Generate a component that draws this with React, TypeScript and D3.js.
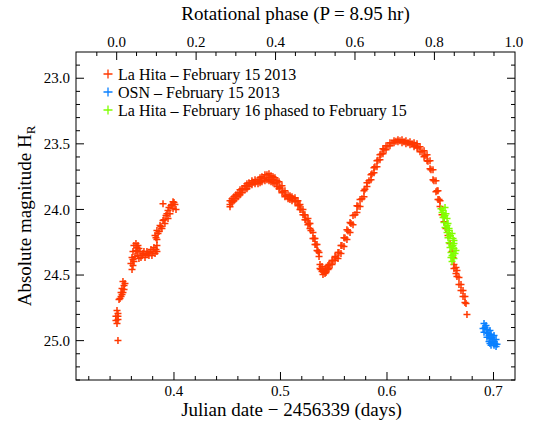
import React from "react";
import * as d3 from "d3";

// light curve points: [julian date - 2456339, absolute magnitude]
const laHitaFeb15: [number, number][] = [
  [0.3474, 24.998],
  [0.3465, 24.77], [0.3474, 24.793], [0.3455, 24.815], [0.3474, 24.838], [0.3465, 24.869],
  [0.3474, 24.815], [0.3455, 24.846],
  [0.3484, 24.686], [0.3503, 24.663], [0.3521, 24.633], [0.3512, 24.602], [0.3531, 24.58],
  [0.3521, 24.549], [0.3503, 24.633], [0.3512, 24.648], [0.3531, 24.61], [0.3493, 24.678],
  [0.354, 24.564],
  [0.3606, 24.458], [0.3596, 24.412], [0.3606, 24.367], [0.3615, 24.321], [0.3624, 24.275],
  [0.3643, 24.26], [0.3662, 24.275], [0.3643, 24.313], [0.3634, 24.359], [0.3662, 24.351],
  [0.3681, 24.321], [0.369, 24.367], [0.3709, 24.336], [0.3728, 24.367], [0.3746, 24.321],
  [0.3765, 24.351], [0.3784, 24.306], [0.3793, 24.351], [0.3812, 24.291], [0.3822, 24.336],
  [0.384, 24.275], [0.384, 24.321], [0.3624, 24.397], [0.3653, 24.291], [0.3671, 24.298],
  [0.37, 24.351], [0.3718, 24.321], [0.3737, 24.344], [0.3756, 24.336], [0.3775, 24.329],
  [0.3803, 24.321], [0.3831, 24.306], [0.3615, 24.382], [0.3615, 24.427], [0.3671, 24.374],
  [0.3653, 24.321],
  [0.3822, 24.199], [0.384, 24.161], [0.384, 24.23], [0.3859, 24.169], [0.3869, 24.123],
  [0.3887, 24.146], [0.3897, 24.085], [0.3915, 24.108], [0.3925, 24.047], [0.3944, 24.07],
  [0.3944, 24.009], [0.3962, 24.032], [0.3972, 23.971], [0.3991, 23.994], [0.3991, 23.941],
  [0.4009, 23.963], [0.4019, 24.001], [0.3897, 23.956], [0.385, 24.184], [0.3878, 24.131],
  [0.3906, 24.078], [0.3934, 24.032], [0.3953, 23.986], [0.3981, 23.963], [0.4, 23.948],
  [0.3831, 24.215],
  [0.4526, 23.933], [0.4526, 23.963], [0.4526, 23.98], [0.4545, 23.918], [0.4545, 23.948],
  [0.4563, 23.903], [0.4563, 23.933], [0.4582, 23.888], [0.4582, 23.918], [0.4601, 23.872],
  [0.4601, 23.903], [0.462, 23.849], [0.462, 23.888], [0.4638, 23.842], [0.4638, 23.872],
  [0.4667, 23.819], [0.4667, 23.849], [0.4685, 23.804], [0.4685, 23.842], [0.4704, 23.796],
  [0.4704, 23.826], [0.4732, 23.781], [0.4732, 23.811], [0.4761, 23.773], [0.4761, 23.804],
  [0.4789, 23.773], [0.4789, 23.804], [0.4808, 23.758], [0.4808, 23.796], [0.4826, 23.75],
  [0.4826, 23.788], [0.4854, 23.735], [0.4854, 23.781], [0.4873, 23.735], [0.4873, 23.773],
  [0.4892, 23.728], [0.4892, 23.781], [0.4911, 23.743], [0.4911, 23.788], [0.493, 23.75],
  [0.493, 23.796], [0.4948, 23.758], [0.4948, 23.804], [0.4967, 23.781], [0.4967, 23.826],
  [0.4986, 23.788], [0.4986, 23.842], [0.5014, 23.819], [0.5014, 23.872], [0.5042, 23.857],
  [0.5042, 23.903], [0.5071, 23.888], [0.5071, 23.918], [0.5089, 23.895], [0.5089, 23.925],
  [0.5108, 23.903], [0.5108, 23.933], [0.5136, 23.91], [0.5136, 23.941], [0.5164, 23.933],
  [0.5164, 23.971], [0.5183, 23.963], [0.5183, 24.001], [0.5211, 24.001], [0.5211, 24.04],
  [0.523, 24.04], [0.523, 24.078], [0.5258, 24.07], [0.5258, 24.116], [0.5277, 24.108],
  [0.5277, 24.146], [0.5305, 24.176], [0.5305, 24.222], [0.5324, 24.222], [0.5324, 24.268],
  [0.5343, 24.268], [0.5343, 24.313], [0.5362, 24.329], [0.5362, 24.359],
  [0.5371, 24.42], [0.5371, 24.45], [0.539, 24.435], [0.539, 24.473], [0.5399, 24.465],
  [0.5399, 24.496], [0.5418, 24.458], [0.5418, 24.488], [0.5427, 24.45], [0.5427, 24.481],
  [0.5446, 24.427], [0.5446, 24.458], [0.5455, 24.42], [0.5455, 24.45], [0.5484, 24.389],
  [0.5484, 24.42], [0.5512, 24.359], [0.5512, 24.389], [0.554, 24.329], [0.554, 24.374],
  [0.5568, 24.275], [0.5568, 24.336], [0.5596, 24.215], [0.5596, 24.283], [0.5624, 24.154],
  [0.5624, 24.23], [0.5653, 24.1], [0.5653, 24.176], [0.5681, 24.047], [0.5681, 24.116],
  [0.5718, 23.971], [0.5718, 24.024], [0.5747, 23.925], [0.5747, 23.978], [0.5784, 23.857],
  [0.5784, 23.903], [0.5812, 23.796], [0.5812, 23.826], [0.585, 23.735], [0.585, 23.773],
  [0.5878, 23.682], [0.5878, 23.72], [0.5906, 23.629], [0.5906, 23.674], [0.5934, 23.583],
  [0.5934, 23.621], [0.5962, 23.537], [0.5962, 23.575], [0.5991, 23.514], [0.5991, 23.545],
  [0.6028, 23.492], [0.6028, 23.514], [0.6066, 23.476], [0.6066, 23.492], [0.6103, 23.469],
  [0.6103, 23.484], [0.6141, 23.469], [0.6141, 23.492], [0.6178, 23.476], [0.6178, 23.499],
  [0.6216, 23.484], [0.6216, 23.507], [0.6254, 23.492], [0.6254, 23.522], [0.6282, 23.499],
  [0.6282, 23.53], [0.631, 23.522], [0.631, 23.56], [0.6348, 23.553], [0.6348, 23.598],
  [0.6376, 23.583], [0.6376, 23.629], [0.6404, 23.629], [0.6404, 23.689], [0.6432, 23.697],
  [0.6432, 23.773], [0.646, 23.781], [0.646, 23.865], [0.6479, 23.857], [0.6479, 23.925],
  [0.6498, 23.933], [0.6498, 23.978],
  // in-between points along the main band
  [0.4545, 23.941], [0.4582, 23.895], [0.462, 23.872], [0.4648, 23.846], [0.4685, 23.823],
  [0.4714, 23.804], [0.4742, 23.792], [0.477, 23.788], [0.4808, 23.781], [0.4845, 23.762],
  [0.4892, 23.758], [0.493, 23.773], [0.4967, 23.796], [0.4995, 23.83], [0.5023, 23.864],
  [0.5052, 23.891], [0.5089, 23.906], [0.5117, 23.918], [0.5146, 23.937], [0.5174, 23.967],
  [0.5193, 24.001], [0.5221, 24.04], [0.5239, 24.078], [0.5268, 24.108], [0.5286, 24.161],
  [0.5315, 24.222], [0.5333, 24.268], [0.5352, 24.317], [0.538, 24.458], [0.5409, 24.473],
  [0.5437, 24.45], [0.5465, 24.42], [0.5493, 24.389], [0.5521, 24.363], [0.5549, 24.329],
  [0.5577, 24.275], [0.5606, 24.218], [0.5634, 24.165], [0.5662, 24.108], [0.57, 24.04],
  [0.5728, 23.975], [0.5765, 23.918], [0.5793, 23.846], [0.5831, 23.781], [0.5859, 23.728],
  [0.5887, 23.674], [0.5915, 23.625], [0.5944, 23.579], [0.5972, 23.545], [0.6009, 23.514],
  [0.6047, 23.492], [0.6084, 23.48], [0.6122, 23.476], [0.616, 23.484], [0.6197, 23.492],
  [0.6235, 23.499], [0.6263, 23.511], [0.6291, 23.53], [0.6329, 23.56], [0.6357, 23.591],
  [0.6385, 23.632], [0.6413, 23.697], [0.6441, 23.781], [0.647, 23.857], [0.6489, 23.925],
  [0.6517, 24.04], [0.6536, 24.093], [0.6554, 24.146], [0.6573, 24.199], [0.6592, 24.26],
  [0.6611, 24.321], [0.662, 24.367],
  [0.6629, 24.42], [0.6629, 24.45], [0.6648, 24.443], [0.6648, 24.488], [0.6657, 24.465],
  [0.6657, 24.511], [0.6676, 24.519], [0.6676, 24.572], [0.6695, 24.572], [0.6695, 24.618],
  [0.6714, 24.618], [0.6714, 24.663], [0.6732, 24.663], [0.6732, 24.709], [0.6742, 24.717],
  [0.6751, 24.8],
];

const osnFeb15: [number, number][] = [
  [0.6911, 24.869], [0.693, 24.884], [0.6902, 24.907], [0.6939, 24.914], [0.6967, 24.922],
  [0.6911, 24.937], [0.6949, 24.945], [0.6977, 24.952], [0.7005, 24.96], [0.6939, 24.975],
  [0.6967, 24.983], [0.6996, 24.991], [0.7024, 24.991], [0.6958, 25.006], [0.6986, 25.013],
  [0.7014, 25.021], [0.6977, 25.036], [0.7005, 25.036], [0.7024, 25.044], [0.6921, 24.899],
  [0.6958, 24.96], [0.6986, 24.975], [0.7005, 25.006], [0.6939, 24.937], [0.7033, 25.028],
  [0.6967, 25.021],
];

const laHitaFeb16: [number, number][] = [
  [0.6507, 23.994], [0.6545, 23.986], [0.6517, 24.024], [0.6554, 24.032], [0.6526, 24.062],
  [0.6564, 24.07], [0.6536, 24.1], [0.6573, 24.108], [0.6545, 24.138], [0.6583, 24.146],
  [0.6564, 24.176], [0.6611, 24.184], [0.6573, 24.215], [0.662, 24.222], [0.6583, 24.253],
  [0.6629, 24.26], [0.6592, 24.291], [0.6629, 24.298], [0.6601, 24.329], [0.6639, 24.336],
  [0.6601, 24.367], [0.6629, 24.374], [0.6611, 24.397], [0.6536, 24.05], [0.6592, 24.2],
  [0.6611, 24.28], [0.662, 24.35], [0.6526, 24.009], [0.6564, 24.123], [0.6592, 24.199],
  [0.662, 24.275], [0.6611, 24.351], [0.6545, 24.047], [0.6583, 24.161], [0.6629, 24.237],
  [0.6648, 24.313],
];

const seriesNames = [
  "La Hita \u2013 February 15 2013",
  "OSN \u2013 February 15 2013",
  "La Hita \u2013 February 16 phased to February 15",
];
const seriesColors = ["#ff3800", "#0a80ff", "#80ff00"];

const jdTicks = [0.4, 0.5, 0.6, 0.7];
const phaseTicks = [0.0, 0.2, 0.4, 0.6, 0.8, 1.0];
const magTicks = [23.0, 23.5, 24.0, 24.5, 25.0];

const PERIOD_DAYS = 8.95 / 24;
const PHASE_ZERO_JD = 0.3462;

const W = 538;
const H = 432;
const left = 76;
const right = 515;
const top = 52;
const bottom = 380;
const serif = { fontFamily: '"Liberation Serif"' };

const plus = (s: number) => `M${-s},0H${s}M0,${-s}V${s}`;

export default function App() {
  const jdDomain = [0.308, 0.7202];
  const x = d3.scaleLinear().domain(jdDomain).range([left, right]);
  const phase = d3
    .scaleLinear()
    .domain(jdDomain.map((d) => (d - PHASE_ZERO_JD) / PERIOD_DAYS))
    .range([left, right]);
  const y = d3.scaleLinear().domain([22.8, 25.3]).range([top, bottom]);

  const jdMinor = d3.range(0.32, 0.72, 0.02);
  const phaseMinor = d3.range(-0.05, 1.0, 0.05);
  const magMinor = d3.range(22.9, 25.3, 0.1);

  const series = [laHitaFeb15, osnFeb15, laHitaFeb16];

  return (
    <svg width={W} height={H} style={{ position: "absolute", left: 0, top: 0, background: "#fff" }}>
      {/* data */}
      {series.map((pts, si) => (
        <g key={si} stroke={seriesColors[si]} strokeWidth={1.5} fill="none">
          {pts.map(([jd, m], i) => (
            <path key={i} transform={`translate(${x(jd)},${y(m)})`} d={plus(3.5)} />
          ))}
        </g>
      ))}

      {/* frame */}
      <rect x={left} y={top} width={right - left} height={bottom - top} fill="none" stroke="#000" strokeWidth={1} />

      {/* ticks on all four sides, pointing inward */}
      <g stroke="#000" strokeWidth={1}>
        {jdMinor.map((t, i) => {
          const major = jdTicks.some((j) => Math.abs(j - t) < 1e-6);
          const len = major ? 8 : 4;
          return <line key={"b" + i} x1={x(t)} x2={x(t)} y1={bottom} y2={bottom - len} />;
        })}
        {phaseMinor.map((t, i) => {
          const major = phaseTicks.some((j) => Math.abs(j - t) < 1e-6);
          const len = major ? 8 : 4;
          return <line key={"t" + i} x1={phase(t)} x2={phase(t)} y1={top} y2={top + len} />;
        })}
        {magMinor.map((t, i) => {
          const major = magTicks.some((j) => Math.abs(j - t) < 1e-6);
          const len = major ? 8 : 4;
          return (
            <g key={"y" + i}>
              <line x1={left} x2={left + len} y1={y(t)} y2={y(t)} />
              <line x1={right} x2={right - len} y1={y(t)} y2={y(t)} />
            </g>
          );
        })}
      </g>

      {/* tick labels */}
      {jdTicks.map((t) => (
        <text key={"jd" + t} x={x(t)} y={396} fontSize={15} textAnchor="middle" style={serif}>
          {t.toFixed(1)}
        </text>
      ))}
      {phaseTicks.map((t) => (
        <text key={"ph" + t} x={phase(t)} y={47} fontSize={15} textAnchor="middle" style={serif}>
          {t.toFixed(1)}
        </text>
      ))}
      {magTicks.map((t) => (
        <text key={"m" + t} x={70} y={y(t)} dy="0.35em" fontSize={15} textAnchor="end" style={serif}>
          {t.toFixed(1)}
        </text>
      ))}

      {/* axis titles */}
      <text x={(left + right) / 2 - 4} y={416} fontSize={19} textAnchor="middle" style={serif}>
        Julian date {"\u2212"} 2456339 (days)
      </text>
      <text x={(left + right) / 2} y={20} fontSize={19} textAnchor="middle" style={serif}>
        Rotational phase (P = 8.95 hr)
      </text>
      <text
        transform={`translate(31,${(top + bottom) / 2}) rotate(-90)`}
        fontSize={19}
        textAnchor="middle"
        style={serif}
      >
        Absolute magnitude H<tspan fontSize={13} dy={4}>R</tspan>
      </text>

      {/* legend */}
      {seriesNames.map((n, i) => (
        <g key={n} transform={`translate(108,${74 + i * 18})`}>
          <path d={plus(4.5)} stroke={seriesColors[i]} strokeWidth={1.3} />
          <text x={10} dy="0.35em" fontSize={16} style={serif}>
            {n}
          </text>
        </g>
      ))}
    </svg>
  );
}
